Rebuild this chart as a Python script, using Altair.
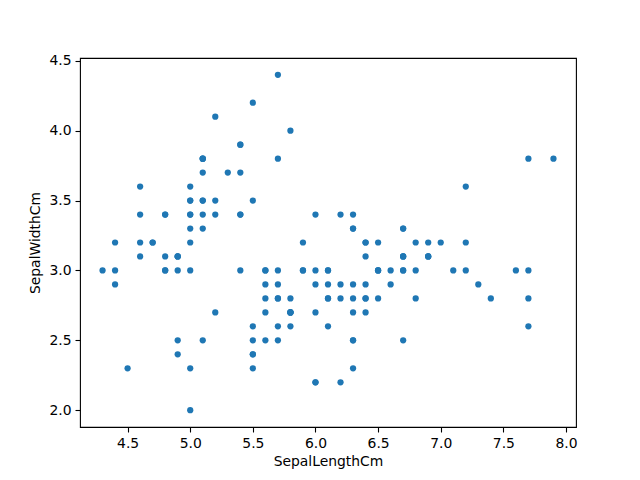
import altair as alt
import pandas as pd

sepal_length = [
    5.1,4.9,4.7,4.6,5.0,5.4,4.6,5.0,4.4,4.9,5.4,4.8,4.8,4.3,5.8,5.7,5.4,5.1,5.7,5.1,
    5.4,5.1,4.6,5.1,4.8,5.0,5.0,5.2,5.2,4.7,4.8,5.4,5.2,5.5,4.9,5.0,5.5,4.9,4.4,5.1,
    5.0,4.5,4.4,5.0,5.1,4.8,5.1,4.6,5.3,5.0,
    7.0,6.4,6.9,5.5,6.5,5.7,6.3,4.9,6.6,5.2,5.0,5.9,6.0,6.1,5.6,6.7,5.6,5.8,6.2,5.6,
    5.9,6.1,6.3,6.1,6.4,6.6,6.8,6.7,6.0,5.7,5.5,5.5,5.8,6.0,5.4,6.0,6.7,6.3,5.6,5.5,
    5.5,6.1,5.8,5.0,5.6,5.7,5.7,6.2,5.1,5.7,
    6.3,5.8,7.1,6.3,6.5,7.6,4.9,7.3,6.7,7.2,6.5,6.4,6.8,5.7,5.8,6.4,6.5,7.7,7.7,6.0,
    6.9,5.6,7.7,6.3,6.7,7.2,6.2,6.1,6.4,7.2,7.4,7.9,6.4,6.3,6.1,7.7,6.3,6.4,6.0,6.9,
    6.7,6.9,5.8,6.8,6.7,6.7,6.3,6.5,6.2,5.9,
]
sepal_width = [
    3.5,3.0,3.2,3.1,3.6,3.9,3.4,3.4,2.9,3.1,3.7,3.4,3.0,3.0,4.0,4.4,3.9,3.5,3.8,3.8,
    3.4,3.7,3.6,3.3,3.4,3.0,3.4,3.5,3.4,3.2,3.1,3.4,4.1,4.2,3.1,3.2,3.5,3.1,3.0,3.4,
    3.5,2.3,3.2,3.5,3.8,3.0,3.8,3.2,3.7,3.3,
    3.2,3.2,3.1,2.3,2.8,2.8,3.3,2.4,2.9,2.7,2.0,3.0,2.2,2.9,2.9,3.1,3.0,2.7,2.2,2.5,
    3.2,2.8,2.5,2.8,2.9,3.0,2.8,3.0,2.9,2.6,2.4,2.4,2.7,2.7,3.0,3.4,3.1,2.3,3.0,2.5,
    2.6,3.0,2.6,2.3,2.7,3.0,2.9,2.9,2.5,2.8,
    3.3,2.7,3.0,2.9,3.0,3.0,2.5,2.9,2.5,3.6,3.2,2.7,3.0,2.5,2.8,3.2,3.0,3.8,2.6,2.2,
    3.2,2.8,2.8,2.7,3.3,3.2,2.8,3.0,2.8,3.0,2.8,3.8,2.8,2.8,2.6,3.0,3.4,3.1,3.0,3.1,
    3.1,3.1,2.7,3.2,3.3,3.0,2.5,3.0,3.4,3.0,
]
x_ticks = [4.5, 5.0, 5.5, 6.0, 6.5, 7.0, 7.5, 8.0]
y_ticks = [2.0, 2.5, 3.0, 3.5, 4.0, 4.5]

df = pd.DataFrame({"SepalLengthCm": sepal_length, "SepalWidthCm": sepal_width})

axis_common = dict(
    grid=False, domain=False, tickColor="black", tickSize=5, tickWidth=1.1,
    labelColor="black", labelFont="DejaVu Sans", labelFontSize=13.9,
    titleFont="DejaVu Sans", titleFontSize=13.9, titleFontWeight="normal",
    titleColor="black", format=".1f", labelPadding=4,
)

chart = alt.Chart(df).mark_circle(size=39, color="#1f77b4", opacity=1).encode(
    x=alt.X("SepalLengthCm:Q",
            scale=alt.Scale(domain=[4.12, 8.08], nice=False, zero=False),
            axis=alt.Axis(values=x_ticks, titlePadding=5, **axis_common)),
    y=alt.Y("SepalWidthCm:Q",
            scale=alt.Scale(domain=[1.88, 4.52], nice=False, zero=False),
            axis=alt.Axis(values=y_ticks, titlePadding=6, **axis_common)),
).properties(
    width=496, height=369,
    autosize=alt.AutoSizeParams(type="none"),
    padding={"left": 72, "top": 50, "right": 56, "bottom": 45},
).configure_view(stroke="black", strokeWidth=1.1)

chart.save("out.html", embed_options={"renderer": "svg", "actions": False})
